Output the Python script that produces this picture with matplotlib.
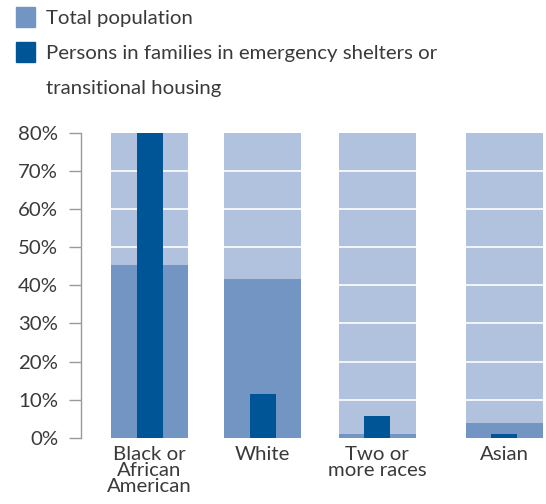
import matplotlib
matplotlib.use("Agg")
import matplotlib.pyplot as plt
from matplotlib.patches import Rectangle

categories = ["Black or\nAfrican\nAmerican", "White", "Two or\nmore races", "Asian"]
total_population = [45.3, 41.7, 1.0, 3.9]
families_shelters = [80.0, 11.5, 5.8, 1.0]
y_ticks = [0, 10, 20, 30, 40, 50, 60, 70, 80]
legend_labels = ["Total population",
                 "Persons in families in emergency shelters or",
                 "transitional housing"]

# layout
positions = [0.0, 0.996, 2.004, 3.123]
bg_width = 0.678
fam_width = 0.229
c_bg = "#b1c2de"
c_total = "#7395c3"
c_fam = "#005596"
c_text = "#3a3a3a"

plt.rcParams['font.family'] = ['Lato', 'DejaVu Sans']
FS = 14.7

fig = plt.figure(figsize=(5.46, 5.04), dpi=100)
ax = fig.add_axes([81/546, 1-437.7/504, 1-81/546, (437.7-133)/504])

ymax = y_ticks[-1]
ax.bar(positions, [ymax]*len(positions), width=bg_width, color=c_bg, zorder=1)
for p in positions:
    for t in y_ticks[1:-1]:
        ax.plot([p-bg_width/2, p+bg_width/2], [t, t], color="white", lw=1.2, zorder=2)
ax.bar(positions, total_population, width=bg_width, color=c_total, zorder=3)
ax.bar(positions, families_shelters, width=fam_width, color=c_fam, zorder=4)

ax.set_ylim(0, ymax)
ax.set_xlim(-0.6035, 3.49)
ax.set_yticks(y_ticks)
ax.set_yticklabels([f"{t}%" for t in y_ticks], fontsize=FS, color=c_text)
ax.tick_params(axis='y', direction='out', length=9, width=1, color="#999999", pad=7.5)
ax.set_xticks(positions)
ax.set_xticklabels(categories, fontsize=FS, color=c_text, linespacing=0.93, va='top')
ax.tick_params(axis='x', length=0, pad=6)
for s in ["top", "right", "bottom"]:
    ax.spines[s].set_visible(False)
ax.spines["left"].set_color("#999999")
ax.spines["left"].set_linewidth(1)

# legend
fig.patches.append(Rectangle((16/546, 1-27/504), 19/546, 20/504, transform=fig.transFigure,
                             color=c_total, figure=fig))
fig.patches.append(Rectangle((16/546, 1-62/504), 19/546, 20/504, transform=fig.transFigure,
                             color=c_fam, figure=fig))
for lbl, yc in zip(legend_labels, [17, 52, 87]):
    fig.text(46/546, 1-yc/504, lbl, fontsize=FS, color=c_text, va='center_baseline', ha='left')

fig.savefig("out.png", dpi=100)
